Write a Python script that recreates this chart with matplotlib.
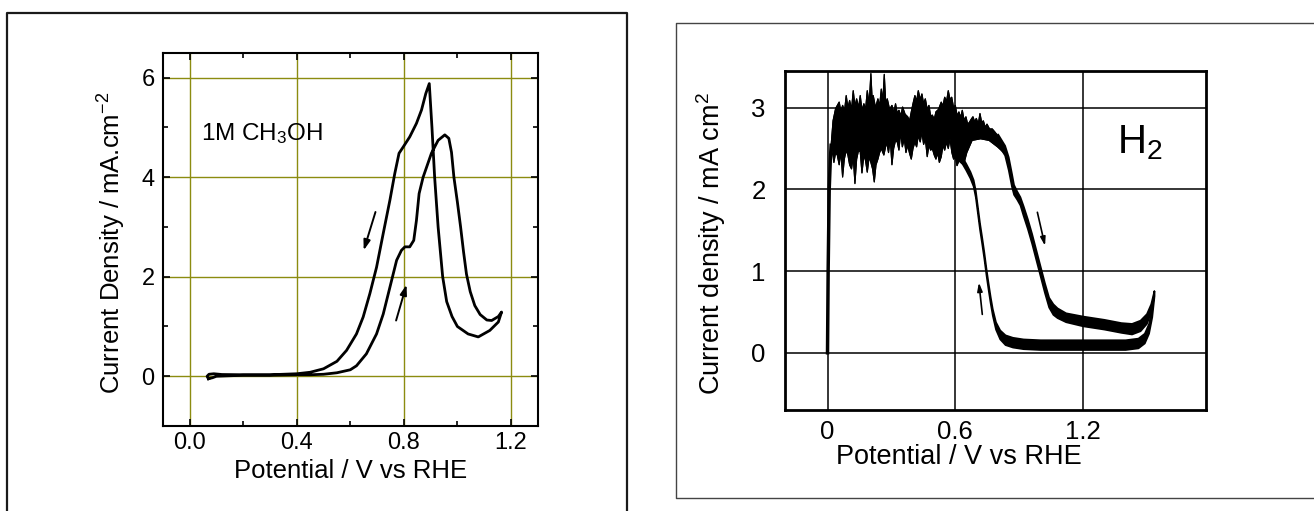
import numpy as np
import matplotlib
matplotlib.use("Agg")
import matplotlib.pyplot as plt
from matplotlib.lines import Line2D

plt.rcParams['font.family'] = ['Liberation Sans', 'DejaVu Sans']
plt.rcParams['mathtext.fontset'] = 'custom'
plt.rcParams['mathtext.rm'] = 'Liberation Sans'
plt.rcParams['mathtext.it'] = 'Liberation Sans'
plt.rcParams['mathtext.bf'] = 'Liberation Sans'

# ---------------- left panel: methanol CV ----------------
meoh_fwd_x = [0.07, 0.085, 0.10, 0.20, 0.30, 0.40, 0.45, 0.50, 0.55, 0.60, 0.623, 0.66, 0.698,
              0.723, 0.748, 0.773, 0.791, 0.804, 0.822, 0.837, 0.847, 0.857, 0.872, 0.903,
              0.928, 0.953, 0.968, 0.978, 0.987, 1.0, 1.012, 1.023, 1.034, 1.048, 1.065,
              1.085, 1.11, 1.128, 1.153, 1.165]
meoh_fwd_y = [-0.05, -0.03, 0.0, 0.02, 0.02, 0.03, 0.03, 0.04, 0.07, 0.13, 0.21, 0.45, 0.85,
              1.25, 1.79, 2.33, 2.53, 2.6, 2.6, 2.73, 3.13, 3.67, 4.0, 4.48,
              4.74, 4.85, 4.78, 4.5, 4.0, 3.5, 3.0, 2.5, 2.05, 1.7, 1.42,
              1.24, 1.13, 1.12, 1.2, 1.29]
meoh_rev_x = [1.165, 1.153, 1.121, 1.078, 1.04, 1.0, 0.98, 0.96, 0.945, 0.928, 0.915, 0.905,
              0.895, 0.882, 0.866, 0.847, 0.822, 0.798, 0.782, 0.766, 0.748, 0.723, 0.698,
              0.673, 0.648, 0.623, 0.586, 0.55, 0.50, 0.45, 0.40, 0.30, 0.20, 0.12, 0.09,
              0.072, 0.065, 0.07]
meoh_rev_y = [1.29, 1.09, 0.92, 0.79, 0.85, 1.0, 1.2, 1.5, 2.0, 3.0, 4.0, 5.0,
              5.88, 5.68, 5.35, 5.08, 4.81, 4.61, 4.48, 4.07, 3.54, 2.87, 2.19,
              1.66, 1.19, 0.85, 0.52, 0.30, 0.15, 0.08, 0.05, 0.03, 0.03, 0.035, 0.05,
              0.04, 0.0, -0.05]
meoh_arrows = [((0.694, 3.30), (0.650, 2.53)), ((0.771, 1.12), (0.810, 1.84))]

# ---------------- right panel: H2 oxidation ----------------
h2_rise_x = [0.0, 0.003, 0.008, 0.013, 0.017]
h2_rise_y = [0.0, 1.0, 2.0, 2.35, 2.54]
h2_top_x = [0.017, 0.026, 0.038, 0.055, 0.063, 0.071, 0.080, 0.088, 0.096, 0.104, 0.113,
            0.121, 0.129, 0.137, 0.146, 0.154, 0.162, 0.171, 0.179, 0.187, 0.196, 0.204,
            0.210, 0.215, 0.226, 0.237, 0.245, 0.253, 0.260, 0.267, 0.274, 0.281, 0.292,
            0.303, 0.312, 0.320, 0.328, 0.336, 0.345, 0.353, 0.365, 0.377, 0.386, 0.394,
            0.402, 0.411, 0.419, 0.427, 0.436, 0.444, 0.452, 0.460, 0.469, 0.477, 0.485,
            0.493, 0.502, 0.510, 0.522, 0.535, 0.543, 0.551, 0.560, 0.568, 0.576, 0.584,
            0.593, 0.601, 0.610, 0.618, 0.626, 0.634, 0.642, 0.651, 0.659, 0.667, 0.676,
            0.684, 0.692, 0.700, 0.709, 0.717, 0.725, 0.733, 0.742, 0.750, 0.762, 0.775,
            0.788, 0.800, 0.808, 0.816, 0.825, 0.833]
h2_top_y = [2.54, 2.84, 2.99, 3.07, 2.95, 3.03, 2.96, 3.15, 3.00, 3.09, 2.98,
            3.21, 3.02, 3.11, 3.00, 3.15, 2.97, 3.05, 2.98, 3.21, 3.05, 3.42,
            3.10, 3.15, 3.00, 3.11, 3.02, 3.23, 3.08, 3.41, 3.05, 3.11, 2.98,
            3.03, 2.94, 3.05, 2.93, 2.97, 2.90, 3.01, 2.92, 2.89, 2.84, 2.95,
            3.05, 3.15, 3.08, 3.21, 3.10, 3.17, 3.05, 3.11, 2.98, 3.03, 2.90,
            2.91, 2.86, 2.95, 2.98, 3.07, 3.02, 3.13, 3.08, 3.21, 3.10, 3.13,
            3.00, 3.03, 2.90, 2.95, 2.88, 2.97, 2.85, 2.89, 2.80, 2.82, 2.86,
            2.89, 2.83, 2.87, 2.80, 2.93, 2.82, 2.84, 2.76, 2.80, 2.74, 2.74,
            2.70, 2.66, 2.60, 2.58, 2.54, 2.50]
h2_bot_x = [0.030, 0.038, 0.046, 0.055, 0.063, 0.071, 0.079, 0.088, 0.096, 0.104, 0.113,
            0.121, 0.129, 0.137, 0.146, 0.154, 0.162, 0.171, 0.179, 0.187, 0.196, 0.204,
            0.212, 0.220, 0.228, 0.237, 0.245, 0.253, 0.265, 0.278, 0.287, 0.295, 0.303,
            0.311, 0.320, 0.328, 0.336, 0.344, 0.352, 0.361, 0.369, 0.377, 0.386, 0.394,
            0.402, 0.411, 0.419, 0.427, 0.436, 0.444, 0.452, 0.460, 0.469, 0.477, 0.485,
            0.493, 0.502, 0.510, 0.518, 0.526, 0.535, 0.543, 0.551, 0.560, 0.568, 0.576,
            0.585, 0.593, 0.601, 0.609, 0.618, 0.626, 0.64, 0.655, 0.68, 0.72, 0.76,
            0.80, 0.833]
h2_bot_y = [2.33, 2.45, 2.42, 2.30, 2.46, 2.15, 2.37, 2.48, 2.42, 2.30, 2.25,
            2.40, 2.07, 2.37, 2.48, 2.46, 2.20, 2.42, 2.35, 2.21, 2.40, 2.33,
            2.25, 2.09, 2.30, 2.37, 2.45, 2.50, 2.42, 2.58, 2.45, 2.62, 2.30,
            2.50, 2.60, 2.58, 2.48, 2.70, 2.52, 2.62, 2.45, 2.54, 2.44, 2.37,
            2.50, 2.58, 2.52, 2.66, 2.58, 2.70, 2.55, 2.62, 2.40, 2.54, 2.48,
            2.50, 2.42, 2.37, 2.45, 2.33, 2.40, 2.54, 2.48, 2.58, 2.50, 2.62,
            2.45, 2.37, 2.40, 2.29, 2.35, 2.33, 2.30, 2.45, 2.60, 2.62, 2.60,
            2.52, 2.44]

h2_fwd_x = [0.80, 0.833, 0.85, 0.865, 0.875, 0.89, 0.905, 0.92, 0.94, 0.96, 0.98, 1.0,
            1.02, 1.04, 1.06, 1.08, 1.12, 1.2, 1.3, 1.38, 1.43, 1.47, 1.50, 1.52, 1.535]
h2_fwd_hi = [2.68, 2.54, 2.40, 2.20, 2.06, 1.98, 1.91, 1.80, 1.64, 1.46, 1.26, 1.06,
             0.86, 0.68, 0.60, 0.55, 0.49, 0.45, 0.41, 0.37, 0.36, 0.40, 0.48, 0.60, 0.76]
h2_fwd_lo = [2.56, 2.42, 2.24, 2.04, 1.94, 1.88, 1.81, 1.68, 1.52, 1.34, 1.14, 0.94,
             0.74, 0.56, 0.47, 0.43, 0.38, 0.33, 0.29, 0.25, 0.23, 0.27, 0.36, 0.50, 0.70]

h2_rev_x = [0.63, 0.65, 0.67, 0.685, 0.695, 0.705, 0.715, 0.725, 0.735, 0.745, 0.755,
            0.765, 0.775, 0.79, 0.81, 0.835, 0.87, 0.92, 1.0, 1.1, 1.2, 1.3, 1.4, 1.46,
            1.49, 1.51, 1.525, 1.535]
h2_rev_hi = [2.41, 2.32, 2.22, 2.12, 1.99, 1.79, 1.59, 1.42, 1.24, 1.04, 0.86,
             0.69, 0.54, 0.38, 0.28, 0.22, 0.19, 0.17, 0.16, 0.16, 0.16, 0.16, 0.16, 0.18,
             0.24, 0.36, 0.56, 0.76]
h2_rev_lo = [2.33, 2.24, 2.14, 2.04, 1.91, 1.71, 1.51, 1.34, 1.16, 0.96, 0.78,
             0.61, 0.46, 0.29, 0.17, 0.10, 0.07, 0.05, 0.04, 0.04, 0.04, 0.04, 0.04, 0.06,
             0.12, 0.24, 0.44, 0.68]
h2_arrows = [((0.987, 1.72), (1.023, 1.31)), ((0.728, 0.47), (0.712, 0.86))]

fig = plt.figure(figsize=(13.14, 5.11), dpi=100)

# outer frames
fig.add_artist(Line2D([0.0053, 0.0053, 0.4772, 0.4772], [-0.02, 0.9746, 0.9746, -0.02],
                      transform=fig.transFigure, color='#1a1a1a', lw=1.6))
fig.add_artist(Line2D([1.02, 0.5145, 0.5145, 1.02], [0.9544, 0.9544, 0.0254, 0.0254],
                      transform=fig.transFigure, color='#444444', lw=1.0))

# ---- left axes
ax1 = fig.add_axes([0.1240, 0.1663, 0.2852, 0.7305])
ax1.plot(meoh_fwd_x + meoh_rev_x, meoh_fwd_y + meoh_rev_y, color='k', lw=2.0,
         solid_joinstyle='round', zorder=3)
for tail, head in meoh_arrows:
    ax1.annotate('', xy=head, xytext=tail,
                 arrowprops=dict(arrowstyle='-|>,head_length=0.6,head_width=0.2',
                                 color='k', lw=1.4, shrinkA=0, shrinkB=0))
ax1.text(0.044, 4.74, '1M CH$_3$OH', fontsize=17.5)
ax1.set_xlim(-0.1, 1.3)
ax1.set_ylim(-1, 6.5)
ax1.set_xticks([0.0, 0.4, 0.8, 1.2])
ax1.set_xticklabels(['0.0', '0.4', '0.8', '1.2'])
ax1.set_xticks([0.2, 0.6, 1.0], minor=True)
ax1.set_yticks([0, 2, 4, 6])
ax1.set_yticks([1, 3, 5], minor=True)
ax1.grid(True, which='major', color='#8c8c10', lw=1.0)
ax1.set_axisbelow(True)
ax1.tick_params(which='both', direction='in', top=True, right=True, width=1.2)
ax1.tick_params(which='major', length=5)
ax1.tick_params(which='minor', length=3.5)
ax1.tick_params(axis='x', labelsize=17, pad=4)
ax1.tick_params(axis='y', labelsize=17, pad=6)
for s in ax1.spines.values():
    s.set_linewidth(1.5)
ax1.set_xlabel('Potential / V vs RHE', fontsize=18.5)
ax1.set_ylabel('Current Density / mA.cm$^{-2}$', fontsize=18.5)
ax1.xaxis.set_label_coords(0.5, -0.088, transform=ax1.transAxes)
ax1.yaxis.set_label_coords(-0.093, 0.49, transform=ax1.transAxes)

# ---- right axes
ax2 = fig.add_axes([0.5974, 0.1977, 0.3204, 0.6634])
ax2.plot(h2_rise_x, h2_rise_y, color='k', lw=2.5, zorder=3)
ax2.fill(h2_top_x + h2_bot_x[::-1], h2_top_y + h2_bot_y[::-1], color='k', lw=0.8,
         zorder=3)
ax2.plot(h2_top_x, h2_top_y, color='k', lw=0.8, zorder=3)
ax2.plot(h2_bot_x, h2_bot_y, color='k', lw=0.8, zorder=3)
ax2.fill_between(h2_fwd_x, h2_fwd_lo, h2_fwd_hi, color='k', lw=1.2, zorder=3)
ax2.fill_between(h2_rev_x, h2_rev_lo, h2_rev_hi, color='k', lw=1.2, zorder=3)
for tail, head in h2_arrows:
    ax2.annotate('', xy=head, xytext=tail,
                 arrowprops=dict(arrowstyle='-|>,head_length=0.5,head_width=0.15',
                                 color='k', lw=1.2, shrinkA=0, shrinkB=0))
ax2.text(1.363, 2.44, 'H$_2$', fontsize=29)
ax2.set_xlim(-0.2, 1.78)
ax2.set_ylim(-0.7, 3.45)
ax2.set_xticks([0, 0.6, 1.2])
ax2.set_xticklabels(['0', '0.6', '1.2'])
ax2.set_yticks([0, 1, 2, 3])
ax2.grid(True, color='k', lw=1.1)
ax2.set_axisbelow(True)
ax2.tick_params(length=0, labelsize=18.5)
ax2.tick_params(axis='x', pad=7)
ax2.tick_params(axis='y', pad=14)
for s in ax2.spines.values():
    s.set_linewidth(2.0)
ax2.set_xlabel('Potential / V vs RHE', fontsize=19.5)
ax2.set_ylabel('Current density / mA cm$^2$', fontsize=19.5)
ax2.xaxis.set_label_coords(0.413, -0.10, transform=ax2.transAxes)
ax2.yaxis.set_label_coords(-0.135, 0.49, transform=ax2.transAxes)

fig.savefig('out.png', dpi=100)
